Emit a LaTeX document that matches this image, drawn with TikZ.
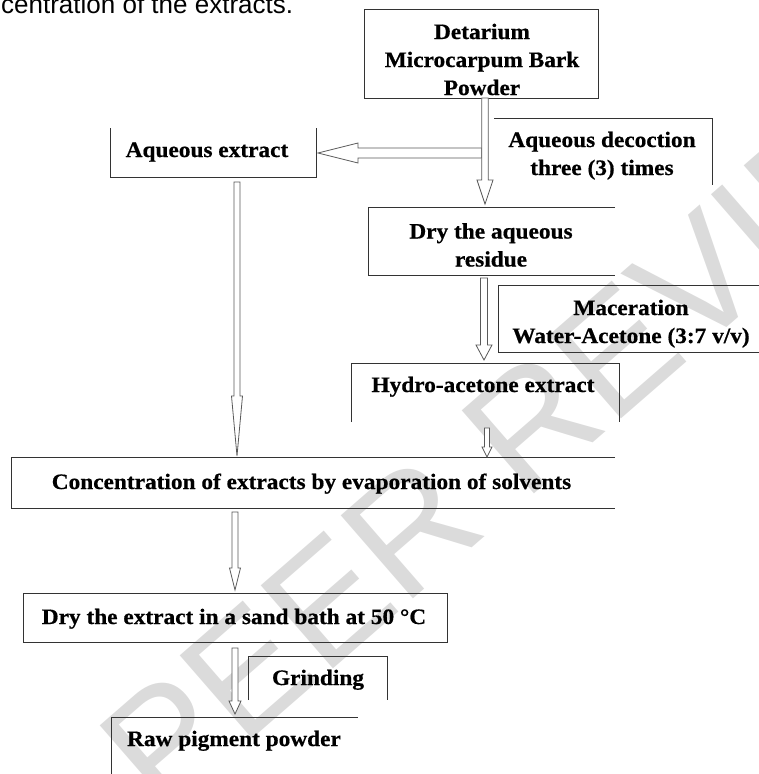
\documentclass[tikz,border=0pt]{standalone}
\usepackage{fontspec}
\setmainfont{Liberation Serif}[FakeStretch=1.06, BoldFeatures={FakeBold=0.6}]
\newfontfamily\pagefont{Liberation Sans}
\newfontfamily\wmfont{Liberation Sans}
\usetikzlibrary{calc}

\tikzset{
  boxnode/.style={inner sep=0pt, outer sep=0pt, draw=none},
  boxtext/.style={font=\bfseries\fontsize{22}{28}\selectfont, inner sep=0pt, align=center, anchor=base},
  frame/.style={draw=black!80, line width=0.9pt},
  blockarrow/.style={draw=black!65, line width=0.8pt, fill=white, line join=miter},
  wm/.style={font=\wmfont\fontsize{160}{160}\selectfont, text=black!14, inner sep=0pt, anchor=base west, rotate=41},
}

% vertical block arrow: start, tip, shaft half width, head half width, head length
\newcommand\varrow[5]{%
  \draw[blockarrow] let \p1=(#1), \p2=(#2) in
   (\x1-#3,\y1) -- (\x1-#3,\y2+#5) -- (\x1-#4,\y2+#5) -- (\x1,\y2)
   -- (\x1+#4,\y2+#5) -- (\x1+#3,\y2+#5) -- (\x1+#3,\y1) -- cycle;}
% leftward block arrow
\newcommand\harrow[5]{%
  \draw[blockarrow] let \p1=(#1), \p2=(#2) in
   (\x1,\y1+#3) -- (\x2+#5,\y1+#3) -- (\x2+#5,\y1+#4) -- (\x2,\y1)
   -- (\x2+#5,\y1-#4) -- (\x2+#5,\y1-#3) -- (\x1,\y1-#3) -- cycle;}

\begin{document}
\begin{tikzpicture}[x=1pt,y=-1pt]
\useasboundingbox (0,0) rectangle (759,774);
\clip (0,0) rectangle (759,774);

% watermark
\node[wm] (wmark) at (162,818) {PEER REVIEW};

% page text cut at the top
\node[anchor=base west, inner sep=0pt, font=\pagefont\fontsize{26}{26}\selectfont] (pagetext) at (1,13.5) {centration of the extracts.};

% box geometry
\node[boxnode, minimum width=234pt, minimum height=89pt] (b1) at (481,53.5) {};
\node[boxnode, minimum width=218pt, minimum height=67pt] (b2) at (603,151.5) {};
\node[boxnode, minimum width=206pt, minimum height=49pt] (b3) at (213,152.5) {};
\node[boxnode, minimum width=247pt, minimum height=68pt] (b4) at (491.5,241) {};
\node[boxnode, minimum width=272pt, minimum height=67pt] (b5) at (634,318.5) {};
\node[boxnode, minimum width=268pt, minimum height=59pt] (b6) at (485,392.5) {};
\node[boxnode, minimum width=604pt, minimum height=51pt] (b7) at (313,482.5) {};
\node[boxnode, minimum width=424pt, minimum height=49pt] (b8) at (235,617.5) {};
\node[boxnode, minimum width=139pt, minimum height=44pt] (b9) at (317.5,678) {};
\node[boxnode, minimum width=247pt, minimum height=73pt] (b10) at (234.5,753.5) {};

% visible frame edges
\draw[frame] (b1.north west) rectangle (b1.south east);
\draw[frame] (b2.north west) -- (b2.north east) -- (b2.south east);
\draw[frame] (b3.north west) -- (b3.south west) -- (b3.south east) -- (b3.north east);
\draw[frame] (b4.north east) -- (b4.north west) -- (b4.south west) -- (b4.south east);
\draw[frame] (b5.north east) -- (b5.north west) -- (b5.south west) -- (b5.south east);
\draw[frame] (b6.south west) -- (b6.north west) -- (b6.north east) -- (b6.south east);
\draw[frame] (b7.north east) -- (b7.north west) -- (b7.south west) -- (b7.south east);
\draw[frame] (b8.north west) rectangle (b8.south east);
\draw[frame] (b9.south west) -- (b9.north west) -- (b9.north east) -- (b9.south east);
\draw[frame] (b10.south west) -- (b10.north west) -- (b10.north east);

% texts (anchor = baseline of the last line)
\node[boxtext] (t1) at (482,95) {Detarium\\Microcarpum Bark\\Powder};
\node[boxtext] (t2) at (602,175) {Aqueous decoction\\three (3) times};
\node[boxtext] (t3) at (207,157) {Aqueous extract};
\node[boxtext] (t4) at (491,266.5) {Dry the aqueous\\residue};
\node[boxtext] (t5) at (631,343) {Maceration\\Water-Acetone (3:7 v/v)};
\node[boxtext] (t6) at (483,392) {Hydro-acetone extract};
\node[boxtext] (t7) at (311.5,489) {Concentration of extracts by evaporation of solvents};
\node[boxtext] (t8) at (234,624) {Dry the extract in a sand bath at 50 °C};
\node[boxtext] (t9) at (318,685) {Grinding};
\node[boxtext] (t10) at (234,746) {Raw pigment powder};

% arrows
\coordinate (split) at (481.7,153);
\harrow{split}{[xshift=2pt]b3.east}{5pt}{10pt}{40pt}
\varrow{[xshift=4pt]b1.south}{[yshift=3pt]b4.north}{3.3pt}{8pt}{24pt}
\varrow{[xshift=-7.5pt,yshift=-3pt]b4.south}{[yshift=3pt]b6.north}{3.5pt}{8pt}{15pt}
\varrow{[xshift=2pt,yshift=-6pt]b6.south}{b7.north}{2.5pt}{5pt}{10pt}
\varrow{[xshift=24pt,yshift=-5pt]b3.south}{[yshift=1pt]b7.north}{3pt}{5.5pt}{60pt}
\varrow{[xshift=-78pt,yshift=-4pt]b7.south}{[yshift=3pt]b8.north}{3pt}{5.5pt}{22pt}
\varrow{[yshift=-6pt]b8.south}{[yshift=3pt]b10.north}{3pt}{6pt}{13pt}
\end{tikzpicture}
\end{document}
